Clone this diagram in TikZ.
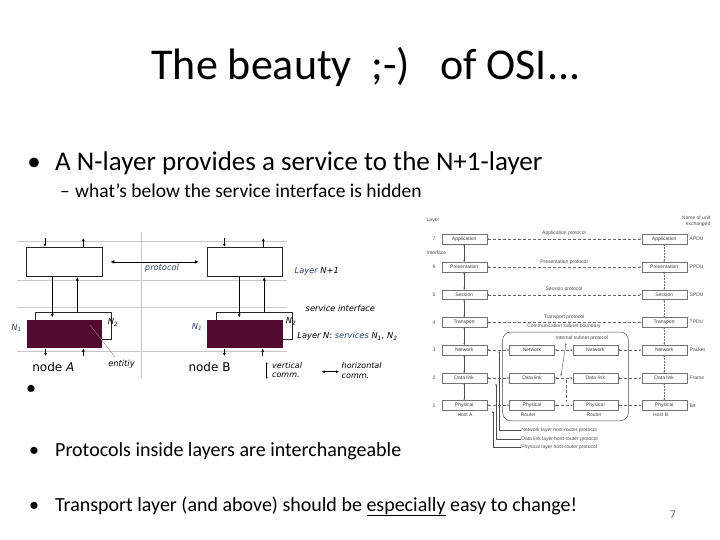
\documentclass[tikz,border=0pt]{standalone}
\usepackage{fontspec}
\setmainfont{Carlito}
\newfontfamily\helv{Liberation Sans}
\newfontfamily\dvs{DejaVu Sans}
\usetikzlibrary{arrows.meta}
\definecolor{entc}{RGB}{82,10,48}
\definecolor{lblue}{RGB}{45,65,115}
\begin{document}
\begin{tikzpicture}[x=1pt,y=-1pt,
  grayl/.style={draw=black!22, line width=0.6pt},
  nbox/.style={draw=black!85, fill=white, line width=0.6pt, minimum width=75.6pt, minimum height=29.7pt, inner sep=0pt},
  obox/.style={draw=black!85, line width=0.6pt, minimum width=76pt, minimum height=26.6pt, inner sep=0pt},
  ebox/.style={fill=entc, minimum width=75.6pt, minimum height=28.3pt, inner sep=0pt},
  varr/.style={-{Latex[length=3.5pt,width=3pt]}, line width=0.6pt},
  sarr/.style={-{Latex[length=3pt,width=3pt]}, line width=0.6pt},
  harr/.style={{Latex[length=4pt,width=3.5pt]}-{Latex[length=4pt,width=3.5pt]}, line width=0.7pt},
  dtxt/.style={font=\dvs\itshape\fontsize{8.3}{9}\selectfont, inner sep=0.5pt},
  stxt/.style={font=\dvs\itshape\fontsize{8}{9}\selectfont, inner sep=0.5pt},
  osibox/.style={draw=black!55, line width=0.4pt, fill=white, minimum width=45pt, minimum height=9.4pt, inner sep=0pt, font=\helv\fontsize{5}{6}\selectfont, text=black!75},
  osit/.style={font=\helv\fontsize{5}{6}\selectfont, text=black!70, inner sep=0.5pt},
  dasharr/.style={densely dashed, black!60, line width=0.4pt, {Stealth[length=2.2pt]}-{Stealth[length=2.2pt]}},
  solarr/.style={black!70, line width=0.6pt, {Stealth[length=2.2pt]}-{Stealth[length=2.2pt]}},
  dotarr/.style={densely dotted, black!55, line width=0.5pt, {Stealth[length=2pt]}-{Stealth[length=2pt]}},
  ptr/.style={black!70, line width=0.4pt, -{Stealth[length=2.2pt]}},
  bul/.style={font=\fontsize{20}{22}\selectfont, anchor=base}
]
\fill[white] (0,0) rectangle (720,540);
\useasboundingbox (0,0) rectangle (720,540);

% ---------- title and bullets ----------
\node[font=\fontsize{44}{50}\selectfont, anchor=base] (title) at (366,80) {The beauty\ \ ;-)\ \ \ of OSI...};
\node[font=\fontsize{27}{30}\selectfont, anchor=base] (b1) at (34,171) {•};
\node[font=\fontsize{27}{30}\selectfont, anchor=base west, inner sep=0pt] (t1) at (55,171) {A N-layer provides a service to the N+1-layer};
\node[font=\fontsize{19.5}{22}\selectfont, anchor=base] (d1) at (65,198) {–};
\node[font=\fontsize{19.5}{22}\selectfont, anchor=base west, inner sep=0pt] (t2) at (75,198) {what's below the service interface is hidden};
\node[font=\fontsize{20}{22}\selectfont] (b2) at (31,390) {•};
\node[bul] (b3) at (34,456) {•};
\node[font=\fontsize{20}{22}\selectfont, anchor=base west, inner sep=0pt] (t3) at (55,456) {Protocols inside layers are interchangeable};
\node[bul] (b4) at (34,511) {•};
\node[font=\fontsize{20}{22}\selectfont, anchor=base west, inner sep=0pt] (t4) at (55,511) {Transport layer (and above) should be \underline{especially} easy to change!};
\node[font=\fontsize{12}{14}\selectfont, text=black!55] (pg) at (673,515) {7};

% ---------- left diagram ----------
\draw[grayl] (17,241.7) -- (287,241.7);
\draw[grayl] (17,280) -- (287,280);
\draw[grayl] (17,307) -- (287,307);
\draw[grayl] (17,351.7) -- (287,351.7);
\draw[grayl] (141.7,232) -- (141.7,378);

\node[nbox] (ta) at (64.5,261.9) {};
\node[nbox] (tb) at (244.7,261.9) {};
\node[obox] (oa) at (73.7,326) {};
\node[obox] (ob) at (254.7,326) {};
\node[ebox] (ea) at (64.5,334.2) {};
\node[ebox] (eb) at (244.7,334.2) {};

\draw[varr] ([xshift=-12.2pt]ta.south) -- ([xshift=-12.2pt,yshift=2.5pt]ea.north);
\draw[varr] ([xshift=12.8pt]ta.south |- oa.north) -- ([xshift=12.8pt]ta.south);
\draw[varr] ([xshift=-5.5pt]tb.south) -- ([xshift=-5.5pt,yshift=2.5pt]eb.north);
\draw[varr] ([xshift=19.6pt]tb.south |- ob.north) -- ([xshift=19.6pt]tb.south);

\coordinate (ta1) at (45,238); \coordinate (ta2) at (83.3,238);
\coordinate (tb1) at (224.3,238); \coordinate (tb2) at (263.3,238);
\draw[sarr] (ta1) -- (ta1 |- ta.north);
\draw[sarr] (ta2 |- ta.north) -- (ta2);
\draw[sarr] (tb1) -- (tb1 |- tb.north);
\draw[sarr] (tb2 |- tb.north) -- (tb2);
\coordinate (ba1) at (45.7,356); \coordinate (ba2) at (83.3,356);
\coordinate (bb1) at (224.3,356); \coordinate (bb2) at (262.7,356);
\draw[sarr] (ba1 |- ea.south) -- (ba1);
\draw[sarr] (ba2) -- (ba2 |- ea.south);
\draw[sarr] (bb1 |- eb.south) -- (bb1);
\draw[sarr] (bb2) -- (bb2 |- eb.south);

\draw[harr] ([xshift=7.7pt]ta.east) -- ([xshift=-7.7pt]tb.west);
\node[dtxt, text=lblue] (prot) at (162,268.5) {protocol};
\node[dtxt, anchor=west] (lnp) at (294,271) {\textcolor{lblue}{Layer} N+1};
\node[dtxt, anchor=west] (si) at (305,308.3) {service interface};
\begin{scope}
\clip (280,325) rectangle (400,345);
\node[dtxt, anchor=west] (ln) at (296.7,336.7) {Layer N: \textcolor{lblue}{services} N\textsubscript{1}, N\textsubscript{2}};
\end{scope}
\node[dtxt, text=lblue] (n1a) at (16.7,328) {N\textsubscript{1}};
\node[dtxt] (n2a) at (113,322.7) {N\textsubscript{2}};
\node[dtxt, text=lblue] (n1b) at (197,327) {N\textsubscript{1}};
\node[dtxt] (n2b) at (291,321.7) {N\textsubscript{2}};
\coordinate (ein) at (90,325); \coordinate (eout) at (115,357);
\draw[black!45, line width=0.4pt] (ein) -- (eout);
\node[dtxt] (ent) at (121.5,364) {entitiy};
\node[font=\dvs\fontsize{12}{13}\selectfont] (na) at (53.3,366.7) {node \textit{A}};
\node[font=\dvs\fontsize{12}{13}\selectfont] (nb) at (209.5,366.7) {node B};
\coordinate (vc1) at (266.7,362); \coordinate (vc2) at (266.7,379);
\draw[{Latex[length=2pt,width=2pt]}-{Latex[length=2pt,width=2pt]}, line width=0.5pt] (vc1) -- (vc2);
\node[stxt, anchor=west] (vt1) at (271.5,365.7) {vertical};
\node[stxt, anchor=west] (vt2) at (271.5,375.7) {comm.};
\coordinate (hc1) at (321.7,371.7); \coordinate (hc2) at (339,371.7);
\draw[{Latex[length=3pt,width=3pt]}-{Latex[length=3pt,width=3pt]}, line width=0.6pt] (hc1) -- (hc2);
\node[stxt, anchor=west] (ht1) at (341,366) {horizontal};
\node[stxt, anchor=west] (ht2) at (341,376.7) {comm.};

% ---------- right diagram ----------
\node[osit, anchor=west] (layer) at (426,220) {Layer};
\node[osit, anchor=east, align=right] (unit) at (711,221) {Name of unit\\exchanged};
\node[osit, anchor=west] (intf) at (426,252.7) {Interface};
\node[draw=black!70, line width=0.5pt, rounded corners=8pt, minimum width=125.6pt, minimum height=88.7pt, inner sep=0pt] (subnet) at (565.5,376.4) {};
\node[osit] (csb) at (564,326.5) {Communication subnet boundary};

\foreach \i/\y/\t/\u in {7/239/Application/APDU, 6/267/Presentation/PPDU, 5/294.7/Session/SPDU, 4/322.3/Transport/TPDU, 3/350/Network/Packet, 2/378/Data link/Frame, 1/405.3/Physical/Bit} {
  \node[osit] (num\i) at (434,\y) {\i};
  \node[osibox] (a\i) at (464.2,\y) {\t};
  \node[osibox] (b\i) at (664.2,\y) {\t};
  \node[osit, anchor=west] (u\i) at (689,\y) {\u};
}
\foreach \i/\y/\t in {3/350/Network, 2/378/Data link, 1/405.3/Physical} {
  \node[osibox] (r\i) at (532,\y) {\t};
  \node[osibox] (s\i) at (595.3,\y) {\t};
  \draw[dasharr] (a\i) -- (r\i);
  \draw[dasharr] (r\i) -- (s\i);
  \draw[dasharr] (s\i) -- (b\i);
}
\foreach \i in {7,6,5,4} { \draw[dasharr] (a\i) -- (b\i); }
\foreach \i/\j in {7/6,6/5,5/4,4/3,3/2,2/1} {
  \draw[solarr] (a\i) -- (a\j);
  \draw[dotarr] (b\i) -- (b\j);
}
\node[osit] (p7) at (564,233.5) {Application protocol};
\node[osit] (p6) at (564,261.8) {Presentation protocol};
\node[osit] (p5) at (564,289.5) {Session protocol};
\node[osit] (p4) at (564,317.2) {Transport protocol};
\node[osit] (hA) at (465,414.8) {Host A};
\node[osit] (rtA) at (528.3,415) {Router};
\node[osit] (rtB) at (594,415) {Router};
\node[osit] (hB) at (660.7,414.8) {Host B};
\node[osit] (isp) at (582,338.3) {Internal subnet protocol};
\coordinate (is1) at (566,343); \coordinate (is2) at (561,376);
\coordinate (is3) at (566.5,380); \coordinate (is4) at (566.5,402);
\draw[black!70, line width=0.4pt, {Stealth[length=2.2pt]}-{Stealth[length=2.2pt]}] (is1) -- (is2);
\draw[densely dashed, black!60, line width=0.4pt, -{Stealth[length=2.2pt]}] (is3) -- (is4);

\node[osit, anchor=west] (lg1) at (520.7,430) {Network layer host-router protocol};
\node[osit, anchor=west] (lg2) at (520.7,439) {Data link layer host-router protocol};
\node[osit, anchor=west] (lg3) at (520.7,447.3) {Physical layer host-router protocol};
\coordinate (lp1) at (499.3,430); \coordinate (le1) at (499.3,351);
\coordinate (lp2) at (496,439); \coordinate (le2) at (496,383.5);
\coordinate (lp3) at (492.7,447.3); \coordinate (le3) at (492.7,411);
\draw[ptr] (lg1.west) -- (lp1) -- (le1);
\draw[ptr] (lg2.west) -- (lp2) -- (le2);
\draw[ptr] (lg3.west) -- (lp3) -- (le3);
\end{tikzpicture}
\end{document}
